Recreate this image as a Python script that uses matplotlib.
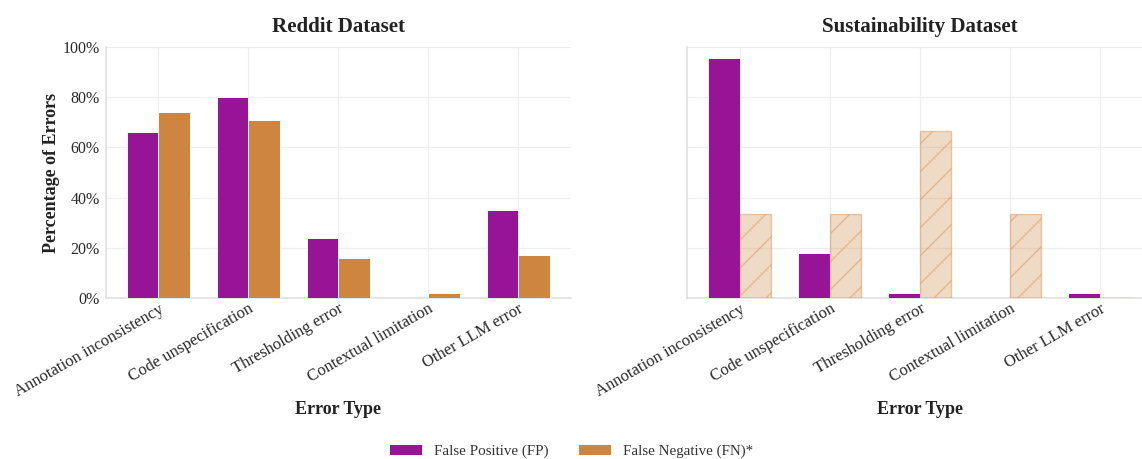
import matplotlib
matplotlib.use("Agg")
import matplotlib.pyplot as plt
import numpy as np
from matplotlib.ticker import PercentFormatter
from matplotlib.colors import to_rgba
from matplotlib.patches import Patch

categories = ["Annotation inconsistency", "Code unspecification", "Thresholding error",
              "Contextual limitation", "Other LLM error"]
reddit_fp = [66, 80, 24, 0, 35]
reddit_fn = [74, 71, 16, 2, 17]
sust_fp = [95.7, 18, 2, 0, 2]
sust_fn = [33.3, 33.3, 66.7, 33.3, 0]
titles = ["Reddit Dataset", "Sustainability Dataset"]
legend_labels = ["False Positive (FP)", "False Negative (FN)*"]

PURPLE = "#971497"
ORANGE = "#CD853F"

DPI = 168
W, H = 1142, 459
def pt(px):
    return px * 72.0 / DPI

plt.rcParams["font.family"] = ["Liberation Serif", "DejaVu Serif"]
plt.rcParams["hatch.linewidth"] = 0.6

fig = plt.figure(figsize=(W / DPI, H / DPI), dpi=DPI)

def frac_axes(x0, x1, ytop, ybot):
    return fig.add_axes([x0 / W, 1 - ybot / H, (x1 - x0) / W, (ybot - ytop) / H])

ax1 = frac_axes(105.7, 570.7, 47, 298)
ax2 = frac_axes(687.3, 1152.5, 47, 298)

x = np.arange(len(categories))
w = 0.35

ax1.bar(x - w / 2, reddit_fp, w, color=PURPLE, edgecolor="white", linewidth=0.4, zorder=3)
ax1.bar(x + w / 2, reddit_fn, w, color=ORANGE, edgecolor="white", linewidth=0.4, zorder=3)

ax2.bar(x - w / 2, sust_fp, w, color=PURPLE, edgecolor="white", linewidth=0.4, zorder=3)
ax2.bar(x + w / 2, sust_fn, w, facecolor=to_rgba(ORANGE, 0.3),
        edgecolor=to_rgba(ORANGE, 0.4), hatch="//", linewidth=0.6, zorder=3)

for i, ax in enumerate([ax1, ax2]):
    ax.set_ylim(0, 100)
    ax.set_yticks([0, 20, 40, 60, 80, 100])
    ax.yaxis.set_major_formatter(PercentFormatter(decimals=0))
    ax.set_xticks(x)
    ax.set_xticklabels(categories, rotation=30, ha="right", rotation_mode="anchor",
                       fontsize=pt(16.6), color="#2a2a2a")
    ax.tick_params(axis="x", length=0, pad=pt(3))
    ax.tick_params(axis="y", length=0, pad=pt(6), labelsize=pt(16), labelcolor="#2a2a2a")
    ax.grid(True, color="#eeeeee", linewidth=pt(1.2), zorder=0)
    ax.set_axisbelow(True)
    for s in ["top", "right"]:
        ax.spines[s].set_visible(False)
    for s in ["left", "bottom"]:
        ax.spines[s].set_color("#dddddd")
        ax.spines[s].set_linewidth(pt(1.5))
    ax.set_title(titles[i], fontsize=pt(21), fontweight="bold", color="#222222", pad=pt(15))
    ax.set_xlabel("Error Type", fontsize=pt(18), fontweight="bold", color="#222222")
    ax.xaxis.set_label_coords(0.5, -0.41)

ax2.tick_params(axis="y", labelleft=False)
ax1.set_ylabel("Percentage of Errors", fontsize=pt(18), fontweight="bold", color="#222222")
ax1.yaxis.set_label_coords(-0.098, 0.5)

handles = [Patch(facecolor=PURPLE, edgecolor="white", linewidth=0.4),
           Patch(facecolor=ORANGE, edgecolor="white", linewidth=0.4)]
fig.legend(handles, legend_labels, loc="center", bbox_to_anchor=(0.5, 1 - 451 / H),
           ncol=2, frameon=False, fontsize=pt(15), handlelength=2.2, columnspacing=2.0,
           labelcolor="#333333")

fig.savefig("out.png", dpi=DPI)
